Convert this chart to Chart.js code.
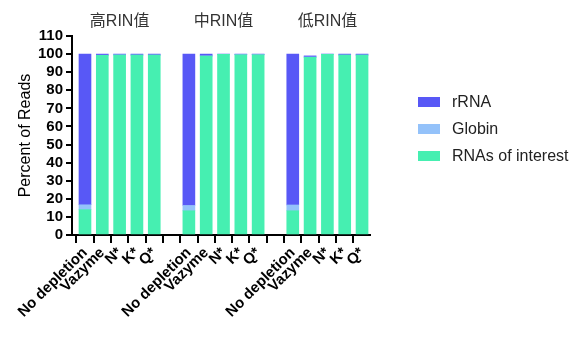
<!DOCTYPE html>
<html>
<head>
<meta charset="utf-8">
<script src="https://cdn.jsdelivr.net/npm/chart.js@4/dist/chart.umd.min.js"></script>
<style>
  html, body { margin: 0; padding: 0; background: #fff; }
  #wrap { width: 584px; height: 339px; }
</style>
</head>
<body>
<div id="wrap"><canvas id="c" width="584" height="339"></canvas></div>
<script>
// Sample groups (by RNA integrity) and depletion methods
const groups = ['高RIN值', '中RIN值', '低RIN值'];
const samples = ['No depletion', 'Vazyme', 'N*', 'K*', 'Q*'];

// Percent of reads per method, one row per group
const interest = [
  [14.0, 99.3, 99.5, 99.4, 99.4],
  [13.4, 98.9, 99.8, 99.6, 99.6],
  [13.4, 98.2, 99.9, 99.4, 99.4]
];
const globin = [
  [2.7, 0.1, 0.1, 0.1, 0.1],
  [2.9, 0.1, 0.1, 0.1, 0.1],
  [3.2, 0.2, 0.05, 0.1, 0.1]
];
const rrna = [
  [83.3, 0.6, 0.4, 0.5, 0.5],
  [83.7, 1.0, 0.1, 0.3, 0.3],
  [83.4, 0.6, 0.05, 0.5, 0.5]
];

const yTicks = [0, 10, 20, 30, 40, 50, 60, 70, 80, 90, 100, 110];

const COL_RRNA = '#5858F6';
const COL_GLOBIN = '#94C2FA';
const COL_INTEREST = '#46EFB1';

// One gap slot between groups on the x axis
const SLOT = samples.length + 1;
const tickLabels = [];
const lastPos = (groups.length - 1) * SLOT + samples.length - 1;
for (let i = 0; i <= lastPos; i++) {
  const si = i % SLOT;
  tickLabels.push(si < samples.length ? samples[si] : '');
}

function series(rows) {
  const out = [];
  rows.forEach((row, gi) => row.forEach((v, si) => out.push({ x: gi * SLOT + si, y: v })));
  return out;
}

const FONT_LATIN = '"Liberation Sans", Arial, "Noto Sans CJK SC", sans-serif';

// Group headings above each cluster, and the side legend
const decorations = {
  id: 'decorations',
  afterDraw(chart) {
    const ctx = chart.ctx;
    const xs = chart.scales.x;
    ctx.save();
    ctx.fillStyle = '#333';
    ctx.font = '16px ' + FONT_LATIN;
    ctx.textAlign = 'center';
    ctx.textBaseline = 'middle';
    groups.forEach((g, gi) => {
      const center = gi * SLOT + (samples.length - 1) / 2;
      ctx.fillText(g, xs.getPixelForValue(center), 22);
    });

    const items = chart.data.datasets.slice().reverse();
    ctx.font = '16px ' + FONT_LATIN;
    ctx.textAlign = 'left';
    items.forEach((ds, i) => {
      const y = 102 + i * 27;
      ctx.fillStyle = ds.backgroundColor;
      ctx.fillRect(418, y - 5, 22, 10);
      ctx.fillStyle = '#222';
      ctx.fillText(ds.label, 452, y + 1);
    });
    ctx.restore();
  }
};

new Chart(document.getElementById('c'), {
  type: 'bar',
  data: {
    datasets: [
      { label: 'RNAs of interest', data: series(interest), backgroundColor: COL_INTEREST },
      { label: 'Globin', data: series(globin), backgroundColor: COL_GLOBIN },
      { label: 'rRNA', data: series(rrna), backgroundColor: COL_RRNA }
    ]
  },
  options: {
    responsive: false,
    devicePixelRatio: 1,
    animation: false,
    barThickness: 12,
    layout: { padding: { top: 36, right: 214, left: 0, bottom: 0 } },
    plugins: {
      legend: { display: false },
      tooltip: { enabled: false }
    },
    scales: {
      x: {
        type: 'linear',
        stacked: true,
        min: -0.75,
        max: lastPos + 0.46,
        offset: false,
        afterBuildTicks(scale) {
          scale.ticks = tickLabels.map((_, i) => ({ value: i }));
        },
        afterFit(scale) { scale.height = 104; },
        grid: {
          drawOnChartArea: false,
          drawTicks: true,
          tickLength: 8,
          color: '#000',
          lineWidth: 2
        },
        border: { display: true, color: '#000', width: 2 },
        ticks: {
          autoSkip: false,
          maxRotation: 45,
          minRotation: 45,
          padding: 1,
          color: '#000',
          font: { family: FONT_LATIN, size: 15, weight: 'bold' },
          callback: (v) => tickLabels[v] ?? ''
        }
      },
      y: {
        stacked: true,
        min: 0,
        max: 110,
        afterBuildTicks(scale) {
          scale.ticks = yTicks.map(v => ({ value: v }));
        },
        afterFit(scale) { scale.width = 72; },
        grid: {
          drawOnChartArea: false,
          drawTicks: true,
          tickLength: 6,
          color: '#000',
          lineWidth: 2
        },
        border: { display: true, color: '#000', width: 2 },
        ticks: {
          autoSkip: false,
          padding: 3,
          color: '#000',
          font: { family: FONT_LATIN, size: 15, weight: 'bold' }
        },
        title: {
          display: true,
          text: 'Percent of Reads',
          color: '#000',
          padding: { top: 16, bottom: 0 },
          font: { family: FONT_LATIN, size: 16 }
        }
      }
    }
  },
  plugins: [decorations]
});
</script>
</body>
</html>
